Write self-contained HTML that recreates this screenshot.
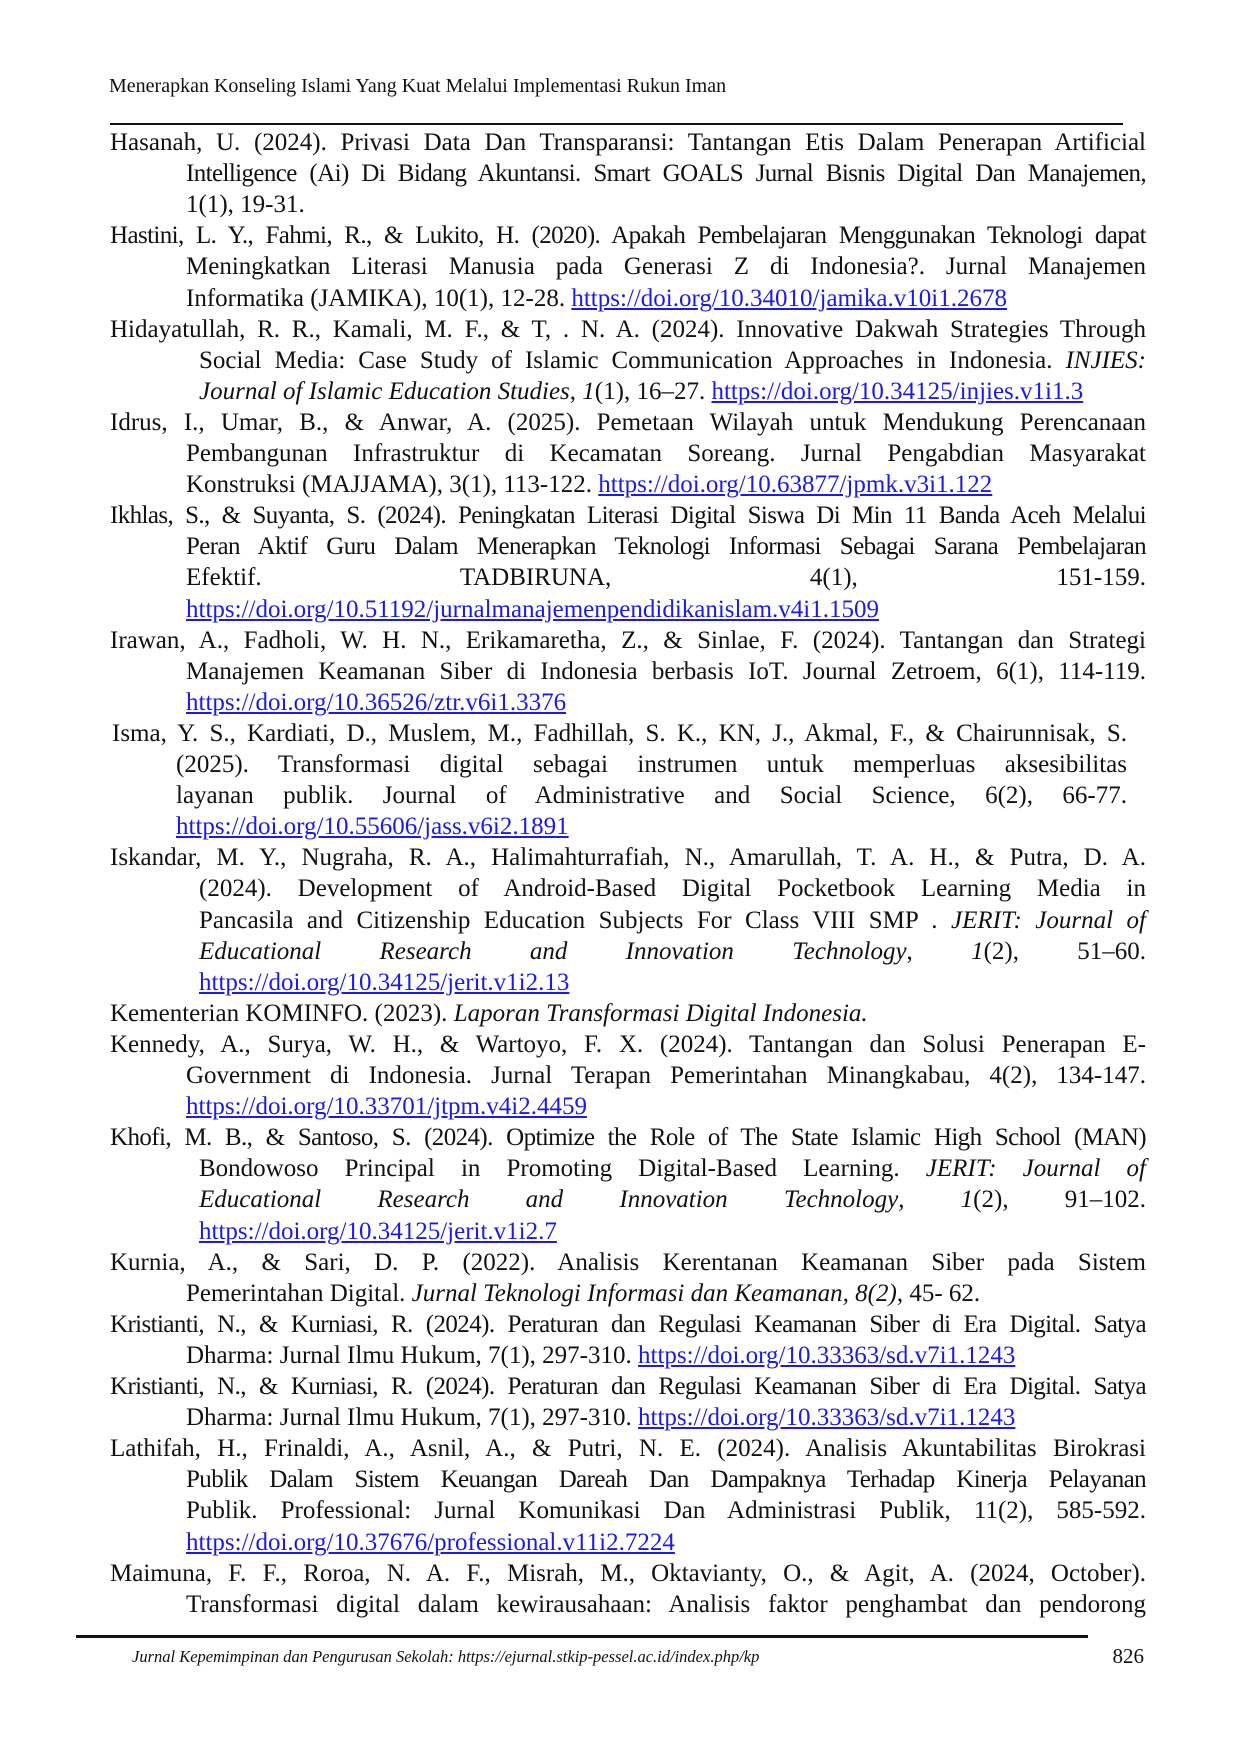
<!DOCTYPE html>
<html><head><meta charset="utf-8"><style>
html,body{margin:0;padding:0;background:#fff;}
body{width:1241px;height:1754px;position:relative;overflow:hidden;font-family:"Liberation Serif",serif;color:#111;}
.hdr{position:absolute;left:109px;top:75px;font-size:20px;}
.rule{position:absolute;height:2px;background:#111;}
#refs{position:absolute;left:0;top:127px;width:1241px;}
.ln{position:absolute;height:31px;line-height:31px;font-size:25px;white-space:nowrap;text-align:justify;text-align-last:justify;}
.ln.l{text-align:left;text-align-last:left;}
.t{letter-spacing:-0.6px;word-spacing:-2px;}
a{color:#1a1aee;text-decoration:underline;}
.ft{position:absolute;left:132px;top:1647px;font-size:16.5px;font-style:italic;}
.pg{position:absolute;right:97px;top:1644px;font-size:21px;}
</style></head><body>
<div class="hdr">Menerapkan Konseling Islami Yang Kuat Melalui Implementasi Rukun Iman</div>
<div class="rule" style="left:110px;width:1013px;top:123px;"></div>
<div id="refs">
<div class="ln" style="top:0px;left:110px;width:1036px">Hasanah, U. (2024). Privasi Data Dan Transparansi: Tantangan Etis Dalam Penerapan Artificial</div>
<div class="ln t" style="top:31.1px;left:186px;width:960px">Intelligence (Ai) Di Bidang Akuntansi. Smart GOALS Jurnal Bisnis Digital Dan Manajemen,</div>
<div class="ln l" style="top:62.2px;left:186px">1(1), 19-31.</div>

<div class="ln t" style="top:93.3px;left:110px;width:1036px">Hastini, L. Y., Fahmi, R., &amp; Lukito, H. (2020). Apakah Pembelajaran Menggunakan Teknologi dapat</div>
<div class="ln" style="top:124.4px;left:186px;width:960px">Meningkatkan Literasi Manusia pada Generasi Z di Indonesia?. Jurnal Manajemen</div>
<div class="ln l" style="top:155.5px;left:186px">Informatika (JAMIKA), 10(1), 12-28. <a>https://doi.org/10.34010/jamika.v10i1.2678</a></div>

<div class="ln" style="top:186.6px;left:110px;width:1036px">Hidayatullah, R. R., Kamali, M. F., &amp; T, . N. A. (2024). Innovative Dakwah Strategies Through</div>
<div class="ln" style="top:217.7px;left:199px;width:947px">Social Media: Case Study of Islamic Communication Approaches in Indonesia. <i>INJIES:</i></div>
<div class="ln l" style="top:248.8px;left:199px"><i>Journal of Islamic Education Studies</i>, <i>1</i>(1), 16–27. <a>https://doi.org/10.34125/injies.v1i1.3</a></div>

<div class="ln" style="top:279.9px;left:110px;width:1036px">Idrus, I., Umar, B., &amp; Anwar, A. (2025). Pemetaan Wilayah untuk Mendukung Perencanaan</div>
<div class="ln" style="top:311px;left:186px;width:960px">Pembangunan Infrastruktur di Kecamatan Soreang. Jurnal Pengabdian Masyarakat</div>
<div class="ln l" style="top:342.1px;left:186px">Konstruksi (MAJJAMA), 3(1), 113-122. <a>https://doi.org/10.63877/jpmk.v3i1.122</a></div>

<div class="ln t" style="top:373.2px;left:110px;width:1036px">Ikhlas, S., &amp; Suyanta, S. (2024). Peningkatan Literasi Digital Siswa Di Min 11 Banda Aceh Melalui</div>
<div class="ln t" style="top:404.3px;left:186px;width:960px">Peran Aktif Guru Dalam Menerapkan Teknologi Informasi Sebagai Sarana Pembelajaran</div>
<div class="ln" style="top:435.4px;left:186px;width:960px">Efektif. TADBIRUNA, 4(1), 151-159.</div>
<div class="ln l" style="top:466.5px;left:186px"><a>https://doi.org/10.51192/jurnalmanajemenpendidikanislam.v4i1.1509</a></div>

<div class="ln" style="top:497.6px;left:110px;width:1036px">Irawan, A., Fadholi, W. H. N., Erikamaretha, Z., &amp; Sinlae, F. (2024). Tantangan dan Strategi</div>
<div class="ln" style="top:528.7px;left:186px;width:960px">Manajemen Keamanan Siber di Indonesia berbasis IoT. Journal Zetroem, 6(1), 114-119.</div>
<div class="ln l" style="top:559.8px;left:186px"><a>https://doi.org/10.36526/ztr.v6i1.3376</a></div>

<div class="ln" style="top:590.9px;left:112px;width:1015px">Isma, Y. S., Kardiati, D., Muslem, M., Fadhillah, S. K., KN, J., Akmal, F., &amp; Chairunnisak, S.</div>
<div class="ln" style="top:622px;left:176px;width:951px">(2025). Transformasi digital sebagai instrumen untuk memperluas aksesibilitas</div>
<div class="ln" style="top:653.1px;left:176px;width:951px">layanan publik. Journal of Administrative and Social Science, 6(2), 66-77.</div>
<div class="ln l" style="top:684.2px;left:176px"><a>https://doi.org/10.55606/jass.v6i2.1891</a></div>

<div class="ln" style="top:715.3px;left:110px;width:1036px">Iskandar, M. Y., Nugraha, R. A., Halimahturrafiah, N., Amarullah, T. A. H., &amp; Putra, D. A.</div>
<div class="ln" style="top:746.4px;left:199px;width:947px">(2024). Development of Android-Based Digital Pocketbook Learning Media in</div>
<div class="ln" style="top:777.5px;left:199px;width:947px">Pancasila and Citizenship Education Subjects For Class VIII SMP . <i>JERIT: Journal of</i></div>
<div class="ln" style="top:808.6px;left:199px;width:947px"><i>Educational Research and Innovation Technology</i>, <i>1</i>(2), 51–60.</div>
<div class="ln l" style="top:839.7px;left:199px"><a>https://doi.org/10.34125/jerit.v1i2.13</a></div>

<div class="ln l" style="top:870.8px;left:110px">Kementerian KOMINFO. (2023). <i>Laporan Transformasi Digital Indonesia.</i></div>

<div class="ln" style="top:901.9px;left:110px;width:1036px">Kennedy, A., Surya, W. H., &amp; Wartoyo, F. X. (2024). Tantangan dan Solusi Penerapan E-</div>
<div class="ln" style="top:933px;left:186px;width:960px">Government di Indonesia. Jurnal Terapan Pemerintahan Minangkabau, 4(2), 134-147.</div>
<div class="ln l" style="top:964.1px;left:186px"><a>https://doi.org/10.33701/jtpm.v4i2.4459</a></div>

<div class="ln t" style="top:995.2px;left:110px;width:1036px">Khofi, M. B., &amp; Santoso, S. (2024). Optimize the Role of The State Islamic High School (MAN)</div>
<div class="ln" style="top:1026.3px;left:199px;width:947px">Bondowoso Principal in Promoting Digital-Based Learning. <i>JERIT: Journal of</i></div>
<div class="ln" style="top:1057.4px;left:199px;width:947px"><i>Educational Research and Innovation Technology</i>, <i>1</i>(2), 91–102.</div>
<div class="ln l" style="top:1088.5px;left:199px"><a>https://doi.org/10.34125/jerit.v1i2.7</a></div>

<div class="ln" style="top:1119.6px;left:110px;width:1036px">Kurnia, A., &amp; Sari, D. P. (2022). Analisis Kerentanan Keamanan Siber pada Sistem</div>
<div class="ln l" style="top:1150.7px;left:186px">Pemerintahan Digital. <i>Jurnal Teknologi Informasi dan Keamanan, 8(2)</i>, 45- 62.</div>

<div class="ln t" style="top:1181.8px;left:110px;width:1036px">Kristianti, N., &amp; Kurniasi, R. (2024). Peraturan dan Regulasi Keamanan Siber di Era Digital. Satya</div>
<div class="ln l" style="top:1212.9px;left:186px">Dharma: Jurnal Ilmu Hukum, 7(1), 297-310. <a>https://doi.org/10.33363/sd.v7i1.1243</a></div>

<div class="ln t" style="top:1244px;left:110px;width:1036px">Kristianti, N., &amp; Kurniasi, R. (2024). Peraturan dan Regulasi Keamanan Siber di Era Digital. Satya</div>
<div class="ln l" style="top:1275.1px;left:186px">Dharma: Jurnal Ilmu Hukum, 7(1), 297-310. <a>https://doi.org/10.33363/sd.v7i1.1243</a></div>

<div class="ln" style="top:1306.2px;left:110px;width:1036px">Lathifah, H., Frinaldi, A., Asnil, A., &amp; Putri, N. E. (2024). Analisis Akuntabilitas Birokrasi</div>
<div class="ln t" style="top:1337.3px;left:186px;width:960px">Publik Dalam Sistem Keuangan Dareah Dan Dampaknya Terhadap Kinerja Pelayanan</div>
<div class="ln" style="top:1368.4px;left:186px;width:960px">Publik. Professional: Jurnal Komunikasi Dan Administrasi Publik, 11(2), 585-592.</div>
<div class="ln l" style="top:1399.5px;left:186px"><a>https://doi.org/10.37676/professional.v11i2.7224</a></div>

<div class="ln" style="top:1430.6px;left:110px;width:1036px">Maimuna, F. F., Roroa, N. A. F., Misrah, M., Oktavianty, O., &amp; Agit, A. (2024, October).</div>
<div class="ln" style="top:1461.7px;left:186px;width:960px">Transformasi digital dalam kewirausahaan: Analisis faktor penghambat dan pendorong</div>
</div>
<div class="rule" style="left:76px;width:1012px;top:1635px;height:3px;"></div>
<div class="ft">Jurnal Kepemimpinan dan Pengurusan Sekolah: https://ejurnal.stkip-pessel.ac.id/index.php/kp</div>
<div class="pg">826</div>
</body></html>
